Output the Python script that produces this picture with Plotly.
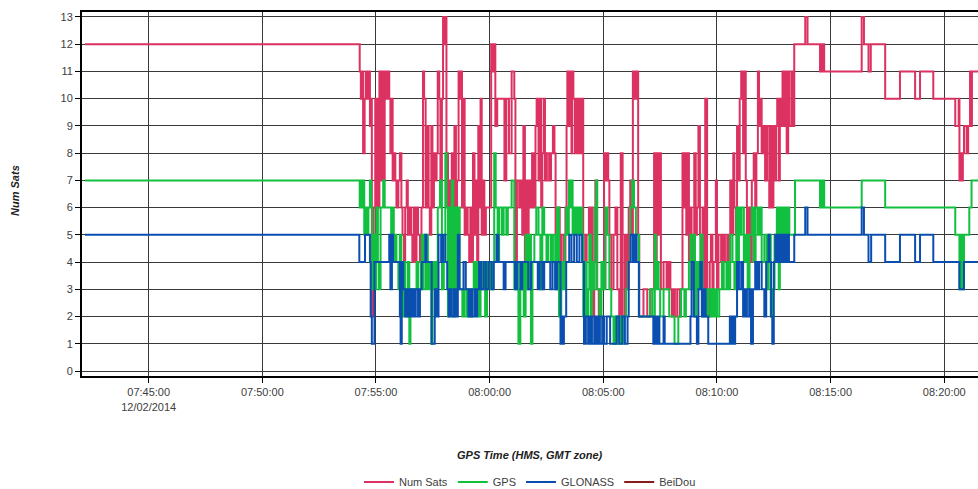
import plotly.graph_objects as go
import pandas as pd

# Time base of the log (offsets below are seconds relative to this instant)
BASE_TIME = "2014-12-02 07:55:00"

tick_times = ["07:45:00", "07:50:00", "07:55:00", "08:00:00", "08:05:00", "08:10:00", "08:15:00", "08:20:00"]
tick_labels = ["07:45:00<br>12/02/2014", "07:50:00", "07:55:00", "08:00:00", "08:05:00", "08:10:00", "08:15:00", "08:20:00"]
y_ticks = list(range(0, 14))

series_names = ["Num Sats", "GPS", "GLONASS", "BeiDou"]
series_colors = ["#dc3262", "#12c040", "#0a4eb0", "#8b1a1a"]

num_sats_t = [-768, -43, -40, -37, -34, -30, -27, -23, -20, -16, -13, -11, -6, -2, 1, 4, 7, 9, 12, 15, 19, 23, 26, 30, 35, 38, 42, 44, 47, 51, 54, 59, 63, 67, 70, 74, 77, 81, 84, 88, 93, 96, 100, 103, 107, 111, 116, 120, 124, 127, 131, 135, 139, 142, 146, 149, 153, 156, 160, 163, 167, 170, 174, 177, 181, 184, 186, 190, 193, 197, 200, 204, 207, 211, 214, 218, 221,
              225, 227, 231, 234, 238, 242, 246, 249, 253, 256, 260, 263, 267, 270, 273, 276, 279, 283, 286, 290, 304, 309, 312, 315, 320, 339, 344, 351, 358, 365, 368, 372, 378, 383, 386, 389, 393, 396, 400, 403, 408, 412, 416, 421, 424, 429, 432, 436, 439, 443, 446, 451, 457, 462, 467, 471, 474, 480, 485,
              489, 495, 500, 503, 505, 509, 512, 516, 518, 521, 525, 528, 532, 537, 540, 544, 547, 552, 556, 562, 565, 569, 572, 576, 579, 583, 588, 593, 602, 606, 609, 613, 616, 621, 627, 632, 637, 642, 646, 651, 657, 662, 667, 671, 674, 678, 683, 688, 692, 695, 706, 716, 725, 734, 737, 741, 745, 748, 752, 759,
              767, 772, 777, 781, 784, 789, 795, 802, 805, 809, 812, 816, 819, 823, 826, 830, 833, 837, 840, 844, 847, 851, 855, 858, 862, 865, 869, 874, 877, 881, 884, 888, 891, 897, 900, 904, 911, 916, 921, 927, 932, 935, 939, 943, 946, 950, 953, 957, 960, 964, 969, 972, 976, 979, 983, 988, 992, 997, 1001, 1004, 1008, 1011, 1015, 1018, 1023, 1027, 1032, 1038,
              1042, 1045, 1049, 1052, 1056, 1059, 1063, 1066, 1070, 1073, 1077, 1080, 1084, 1088, 1091, 1097, 1100, 1104, 1133, 1139, 1172, 1175, 1177, 1180, 1183, 1282, 1288, 1300, 1306, 1344, 1383, 1423, 1436, 1471, 1529, 1538, 1540, 1544, 1546, 1549, 1552, 1559, 1563, 1568, 1570, 1573, 1589]
num_sats_v = [12, 11, 10, 11, 8, 10, 11, 10, 11, 9, 10, 2, 6, 10, 6, 10, 6, 11, 7, 11, 7, 11, 10, 11, 10, 8, 10, 7, 8, 7, 6, 7, 8, 6, 5, 4, 6, 7, 5, 6, 5, 4, 6, 4, 6, 5, 4, 6, 11, 10, 6, 9, 6, 5, 9, 6, 8, 7, 8, 11, 10, 7, 10, 13, 12, 13, 8, 5, 7, 5, 8, 6, 9, 4, 7, 11, 10,
              11, 6, 10, 5, 6, 5, 4, 6, 4, 8, 5, 7, 4, 9, 6, 10, 5, 7, 5, 6, 12, 11, 12, 9, 10, 7, 10, 8, 11, 10, 4, 7, 6, 7, 5, 9, 4, 7, 5, 7, 6, 8, 6, 9, 10, 7, 10, 6, 8, 10, 7, 8, 7, 8, 9, 8, 5, 6, 4,
              5, 4, 6, 9, 11, 9, 11, 8, 11, 10, 8, 10, 8, 10, 8, 10, 5, 4, 5, 6, 3, 6, 2, 4, 7, 3, 2, 3, 8, 7, 8, 7, 5, 3, 5, 6, 3, 2, 8, 2, 5, 3, 6, 7, 5, 11, 10, 11, 5, 2, 3, 2, 3, 8, 4, 8, 5, 8, 3, 4,
              3, 4, 3, 2, 3, 2, 3, 2, 3, 8, 6, 8, 5, 8, 4, 6, 3, 5, 8, 5, 6, 9, 5, 4, 6, 3, 10, 3, 2, 4, 5, 3, 4, 7, 3, 5, 4, 5, 4, 5, 4, 7, 5, 8, 6, 5, 9, 7, 10, 11, 8, 11, 7, 5, 6, 4, 7, 8, 6, 8, 11, 9, 10, 8, 9, 7, 9, 6,
              9, 6, 9, 7, 9, 10, 7, 10, 9, 11, 9, 11, 8, 11, 9, 11, 9, 12, 13, 12, 11, 12, 11, 12, 11, 13, 12, 11, 12, 10, 11, 10, 11, 10, 9, 10, 7, 8, 7, 8, 9, 8, 9, 11, 9, 11, 11]

gps_t = [-768, -43, -40, -37, -34, -31, -27, -23, -20, -16, -13, -10, -6, -2, 1, 5, 8, 12, 19, 23, 40, 44, 47, 51, 54, 59, 63, 67, 70, 74, 77, 81, 84, 88, 91, 107, 111, 118, 121, 126, 132, 137, 142, 146, 149, 153, 156, 160, 163, 169, 174, 179, 183, 186, 190, 193, 197, 200, 204, 209, 214, 218, 221,
         228, 233, 239, 244, 249, 254, 258, 261, 265, 268, 272, 276, 279, 283, 288, 293, 302, 309, 312, 316, 321, 325, 332, 337, 344, 348, 358, 365, 371, 376, 381, 386, 390, 395, 399, 404, 409, 413, 418, 423, 429, 434, 439, 444, 450, 455, 462, 467, 473, 478, 483,
         489, 493, 498, 502, 505, 509, 512, 516, 519, 523, 526, 530, 535, 540, 544, 547, 553, 556, 560, 563, 567, 570, 574, 577, 581, 584, 590, 595, 600, 606, 611, 616, 621, 627, 630, 634, 637, 641, 644, 650, 655, 660, 665, 671, 676, 681, 686, 694, 723, 730, 736, 739, 743, 746, 750, 759,
         774, 788, 798, 805, 814, 818, 826, 830, 833, 839, 842, 846, 851, 856, 862, 867, 872, 877, 883, 886, 890, 895, 900, 906, 913, 918, 925, 930, 935, 941, 946, 951, 955, 958, 962, 965, 971, 976, 981, 986, 992, 997, 1002, 1008, 1013, 1018, 1025, 1031, 1036,
         1042, 1047, 1052, 1058, 1063, 1066, 1070, 1073, 1077, 1080, 1084, 1088, 1091, 1106, 1172, 1175, 1177, 1180, 1183, 1282, 1344, 1529, 1540, 1544, 1547, 1552, 1566, 1572, 1589]
gps_v = [7, 6, 7, 6, 7, 5, 6, 5, 6, 7, 6, 3, 5, 3, 6, 4, 3, 6, 7, 6, 5, 6, 4, 5, 4, 3, 5, 3, 2, 4, 3, 2, 4, 1, 3, 4, 3, 4, 5, 3, 5, 3, 4, 1, 4, 3, 4, 3, 6, 7, 3, 4, 8, 6, 2, 6, 3, 7, 2, 6, 3, 6, 3,
         2, 3, 2, 3, 2, 3, 4, 3, 4, 3, 2, 4, 3, 4, 2, 4, 3, 4, 8, 6, 4, 6, 5, 6, 5, 6, 7, 3, 4, 1, 3, 4, 2, 5, 3, 5, 1, 4, 5, 6, 5, 3, 6, 5, 4, 5, 4, 5, 3, 6, 2,
         4, 3, 5, 6, 5, 7, 6, 7, 5, 6, 5, 6, 5, 6, 5, 2, 4, 2, 3, 5, 2, 4, 3, 6, 7, 3, 2, 4, 3, 6, 5, 3, 2, 1, 2, 1, 2, 1, 2, 1, 2, 3, 4, 6, 7, 6, 5, 2, 3, 2, 5, 3, 4, 3, 2, 3,
         2, 1, 2, 3, 2, 3, 4, 5, 3, 5, 2, 4, 3, 5, 2, 3, 2, 3, 2, 3, 2, 3, 2, 3, 4, 3, 4, 3, 5, 4, 3, 6, 4, 6, 5, 6, 4, 5, 3, 5, 6, 4, 6, 5, 6, 4, 5, 3, 5,
         2, 3, 5, 6, 3, 6, 5, 6, 5, 6, 5, 6, 5, 7, 6, 7, 6, 7, 6, 7, 6, 5, 3, 5, 3, 5, 6, 7, 7]

glonass_t = [-768, -44, -29, -16, -14, -11, -4, 35, 38, 42, 45, 63, 65, 68, 72, 77, 81, 84, 88, 91, 95, 100, 105, 111, 116, 121, 130, 133, 147, 155, 160, 165, 172, 177, 183, 188, 192, 195, 200, 206, 211, 216, 220,
             231, 237, 244, 249, 254, 260, 263, 267, 272, 277, 284, 290, 297, 305, 311, 318, 323, 337, 342, 367, 372, 381, 386, 402, 409, 427, 432, 439, 444, 460, 466, 473, 478, 487,
             489, 493, 496, 502, 510, 516, 523, 530, 537, 544, 549, 554, 560, 565, 570, 576, 581, 586, 591, 597, 602, 609, 618, 635, 642, 650, 657, 664, 667, 672, 678, 683, 688, 694, 732, 736, 739, 743, 748, 759, 762,
             830, 833, 839, 847, 851, 856, 860, 865, 870, 877, 934, 937, 941, 944, 948, 953, 958, 964, 969, 974, 979, 985, 990, 995, 1001, 1006, 1011, 1018, 1025, 1030, 1036, 1039,
             1043, 1046, 1050, 1054, 1058, 1062, 1066, 1070, 1074, 1078, 1082, 1086, 1090, 1104, 1133, 1139, 1282, 1288, 1300, 1307, 1344, 1383, 1423, 1436, 1471, 1540, 1552, 1589]
glonass_v = [5, 4, 5, 4, 2, 1, 4, 5, 3, 5, 4, 2, 1, 4, 3, 2, 3, 2, 3, 2, 3, 2, 3, 2, 3, 4, 5, 4, 1, 3, 2, 5, 4, 5, 4, 3, 2, 3, 2, 3, 2, 5, 3,
             4, 3, 2, 3, 2, 3, 2, 3, 4, 3, 4, 3, 4, 3, 4, 5, 4, 3, 4, 3, 4, 3, 4, 3, 4, 3, 4, 3, 4, 3, 4, 3, 4, 1,
             2, 1, 2, 4, 5, 4, 5, 4, 5, 4, 1, 2, 1, 2, 1, 2, 1, 2, 1, 2, 1, 2, 1, 2, 1, 2, 1, 2, 4, 5, 4, 5, 4, 2, 1, 2, 1, 2, 1, 2, 1,
             2, 4, 2, 1, 3, 4, 2, 3, 2, 1, 2, 1, 2, 1, 2, 4, 3, 4, 2, 3, 2, 3, 1, 3, 4, 3, 4, 3, 2, 4, 5, 4,
             2, 1, 4, 5, 4, 5, 4, 5, 4, 5, 4, 5, 4, 5, 6, 5, 6, 5, 4, 5, 4, 5, 4, 5, 4, 3, 4, 4]

beidou_t = []
beidou_v = []


def to_times(offsets):
    base = pd.Timestamp(BASE_TIME)
    return [base + pd.Timedelta(seconds=s) for s in offsets]


def hms(s):
    return pd.Timestamp("2014-12-02 " + s)


fig = go.Figure()
for name, color, t, v in [
    (series_names[0], series_colors[0], num_sats_t, num_sats_v),
    (series_names[1], series_colors[1], gps_t, gps_v),
    (series_names[2], series_colors[2], glonass_t, glonass_v),
    (series_names[3], series_colors[3], beidou_t, beidou_v),
]:
    xs = to_times(t) if t else [None]
    ys = v if v else [None]
    fig.add_trace(go.Scatter(x=xs, y=ys, mode="lines", name=name,
                             line=dict(color=color, width=2, shape="hv")))

grid_col = "#3a3a3a"
fig.update_layout(
    width=978, height=489,
    margin=dict(l=82, r=0, t=12, b=113, autoexpand=False),
    paper_bgcolor="white", plot_bgcolor="white",
    font=dict(family="Arial, Liberation Sans, sans-serif", size=11, color="#404040"),
    showlegend=True,
    legend=dict(orientation="h", xref="paper", x=0.5, xanchor="center",
                yref="container", y=0.0143, yanchor="middle",
                font=dict(size=11, color="#404040"), itemwidth=30, tracegroupgap=0),
    xaxis=dict(
        range=[hms("07:42:04"), hms("08:21:29")],
        tickvals=[hms(s) for s in tick_times], ticktext=tick_labels,
        showgrid=True, gridcolor=grid_col, gridwidth=1,
        showline=True, linecolor="black", linewidth=2, mirror=True,
        ticks="outside", ticklen=5, tickcolor="black", tickwidth=1,
        tickfont=dict(size=11, color="#404040"), zeroline=False,
    ),
    yaxis=dict(
        range=[-0.18, 13.18],
        tickvals=y_ticks,
        showgrid=True, gridcolor=grid_col, gridwidth=1,
        showline=True, linecolor="black", linewidth=2, mirror=False,
        ticks="outside", ticklen=5, tickcolor="black", tickwidth=1,
        tickfont=dict(size=11, color="#404040"), zeroline=False,
    ),
    annotations=[
        dict(text="<b><i>GPS Time (HMS, GMT zone)</i></b>", xref="paper", yref="paper",
             x=0.5, y=-0.217, xanchor="center", yanchor="middle", showarrow=False,
             font=dict(size=11, color="#222222")),
        dict(text="<b><i>Num Sats</i></b>", xref="paper", yref="paper",
             x=-0.0748, y=0.511, xanchor="center", yanchor="middle", textangle=-90,
             showarrow=False, font=dict(size=11, color="#222222")),
    ],
)

fig.write_html("out.html")
